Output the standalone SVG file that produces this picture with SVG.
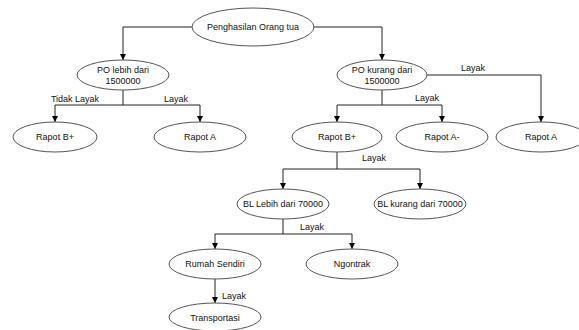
<svg xmlns="http://www.w3.org/2000/svg" width="579" height="330" viewBox="0 0 579 330">
<defs>
<marker id="arr" markerUnits="userSpaceOnUse" markerWidth="7" markerHeight="7" refX="6" refY="3.5" orient="auto">
<path d="M0,0.5 L6,3.5 L0,6.5 Z" fill="#000"/>
</marker>
<style>
.n ellipse{fill:#fff;stroke:#555;stroke-width:1}
text{font-family:"Liberation Sans",Arial,sans-serif;font-size:9px;fill:#111;text-anchor:middle;dominant-baseline:central}
.c path{fill:none;stroke:#222;stroke-width:1}
.c path.a{marker-end:url(#arr)}
</style>
</defs>
<rect width="579" height="330" fill="#fff"/>
<g class="c" id="connectors">
<path class="a" d="M192,27 H123 V60"/>
<path class="a" d="M314,27 H382 V60"/>
<path d="M123,90 V105"/>
<path class="a" d="M123,105 H55 V122"/>
<path class="a" d="M123,105 H200 V122"/>
<path class="a" d="M427,75 H541 V122"/>
<path d="M382,90 V105"/>
<path class="a" d="M382,105 H337 V122"/>
<path class="a" d="M382,105 H442 V122"/>
<path d="M337,152 V169"/>
<path class="a" d="M337,169 H283 V189"/>
<path class="a" d="M337,169 H420 V189"/>
<path d="M283,219 V234"/>
<path class="a" d="M283,234 H215 V249"/>
<path class="a" d="M283,234 H352 V249"/>
<path class="a" d="M215,279 V303"/>
<text x="75" y="99">Tidak Layak</text>
<text x="176" y="99">Layak</text>
<text x="473" y="68">Layak</text>
<text x="427" y="98">Layak</text>
<text x="374" y="158">Layak</text>
<text x="312" y="227">Layak</text>
<text x="234" y="296">Layak</text>
</g>
<g class="n" id="root"><ellipse cx="253" cy="27" rx="61" ry="19"/><text x="253" y="27">Penghasilan Orang tua</text></g>
<g class="n" id="po-lebih"><ellipse cx="123" cy="75" rx="46" ry="15"/><text x="123" y="70">PO lebih dari</text><text x="123" y="81">1500000</text></g>
<g class="n" id="po-kurang"><ellipse cx="382" cy="75" rx="45" ry="15"/><text x="382" y="70">PO kurang dari</text><text x="382" y="81">1500000</text></g>
<g class="n" id="rapot-bplus-1"><ellipse cx="55" cy="137" rx="42" ry="15"/><text x="55" y="137">Rapot B+</text></g>
<g class="n" id="rapot-a-1"><ellipse cx="200" cy="137" rx="46" ry="15"/><text x="200" y="137">Rapot A</text></g>
<g class="n" id="rapot-bplus-2"><ellipse cx="337" cy="137" rx="45" ry="15"/><text x="337" y="137">Rapot B+</text></g>
<g class="n" id="rapot-aminus"><ellipse cx="442" cy="137" rx="46" ry="15"/><text x="442" y="137">Rapot A-</text></g>
<g class="n" id="rapot-a-2"><ellipse cx="541" cy="137" rx="45" ry="15"/><text x="541" y="137">Rapot A</text></g>
<g class="n" id="bl-lebih"><ellipse cx="283" cy="204" rx="46" ry="15"/><text x="283" y="204">BL Lebih dari 70000</text></g>
<g class="n" id="bl-kurang"><ellipse cx="420" cy="204" rx="46" ry="15"/><text x="420" y="204">BL kurang dari 70000</text></g>
<g class="n" id="rumah"><ellipse cx="215" cy="264" rx="46" ry="15"/><text x="215" y="264">Rumah Sendiri</text></g>
<g class="n" id="ngontrak"><ellipse cx="352" cy="264" rx="46" ry="15"/><text x="352" y="264">Ngontrak</text></g>
<g class="n" id="transportasi"><ellipse cx="215" cy="317" rx="46" ry="14"/><text x="215" y="318">Transportasi</text></g>
</svg>
